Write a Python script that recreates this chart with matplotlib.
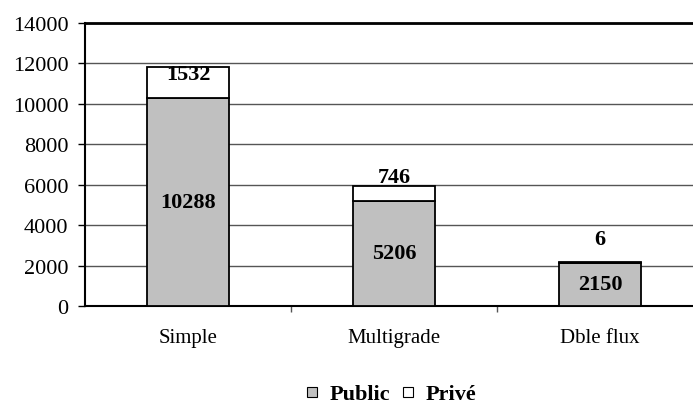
import matplotlib
matplotlib.use("Agg")
import matplotlib.pyplot as plt
import numpy as np
from matplotlib.lines import Line2D

plt.rcParams.update({
    "font.family": ["Liberation Serif", "DejaVu Serif"],
    "font.size": 16,
})

categories = ["Simple", "Multigrade", "Dble flux"]
public = [10288, 5206, 2150]
prive = [1532, 746, 6]
yticks = [0, 2000, 4000, 6000, 8000, 10000, 12000, 14000]

fig = plt.figure(figsize=(6.93, 4.06), dpi=100)
# plot area runs slightly past the right edge, as in the source
ax = fig.add_axes([85/693, 1-307/406, 618/693, 283/406])

x = np.arange(len(categories))
w = 0.40
ax.bar(x, public, w, color="#c0c0c0", edgecolor="black", linewidth=1.3, zorder=3)
ax.bar(x, prive, w, bottom=public, color="white", edgecolor="black", linewidth=1.3, zorder=3)

ax.set_xlim(-0.5, 2.5)
ax.set_ylim(0, 14000)
ax.set_yticks(yticks)
ax.set_xticks(x)
ax.set_xticklabels(categories, fontsize=15)
ax.set_xticks([0.5, 1.5], minor=True)
ax.tick_params(axis="x", which="major", length=0, pad=16)
ax.tick_params(axis="x", which="minor", length=4, width=1, direction="out", color="#555555")
ax.tick_params(axis="y", length=5, width=1, direction="out", pad=7, labelsize=16)
ax.grid(axis="y", color="#555555", linewidth=1.0, zorder=0)
ax.spines["right"].set_visible(False)
ax.spines["top"].set_linewidth(2)
ax.spines["left"].set_linewidth(1.5)
ax.spines["bottom"].set_linewidth(1.5)

# value labels
for i in range(len(categories)):
    ax.text(x[i], public[i] / 2, str(public[i]), ha="center", va="center",
            fontweight="bold", fontsize=16, zorder=4)
# private labels sit near the top of the stack (Excel nudges the thin ones up)
prive_offsets = [-340, 405, 1160]
for i in range(len(categories)):
    top = public[i] + prive[i]
    ax.text(x[i], top + prive_offsets[i], str(prive[i]), ha="center", va="center",
            fontweight="bold", fontsize=16, zorder=4)

handles = [
    Line2D([], [], marker="s", linestyle="none", markersize=7,
           markerfacecolor="#c0c0c0", markeredgecolor="black", markeredgewidth=0.8),
    Line2D([], [], marker="s", linestyle="none", markersize=7,
           markerfacecolor="white", markeredgecolor="black", markeredgewidth=0.8),
]
fig.legend(handles, ["Public", "Privé"], loc="center", bbox_to_anchor=(391/693, 1-395/406),
           ncol=2, frameon=False, prop={"weight": "bold", "size": 16},
           handlelength=0.6, handletextpad=0.5, columnspacing=0.5,
           borderpad=0.1)

fig.savefig("out.png", dpi=100)
